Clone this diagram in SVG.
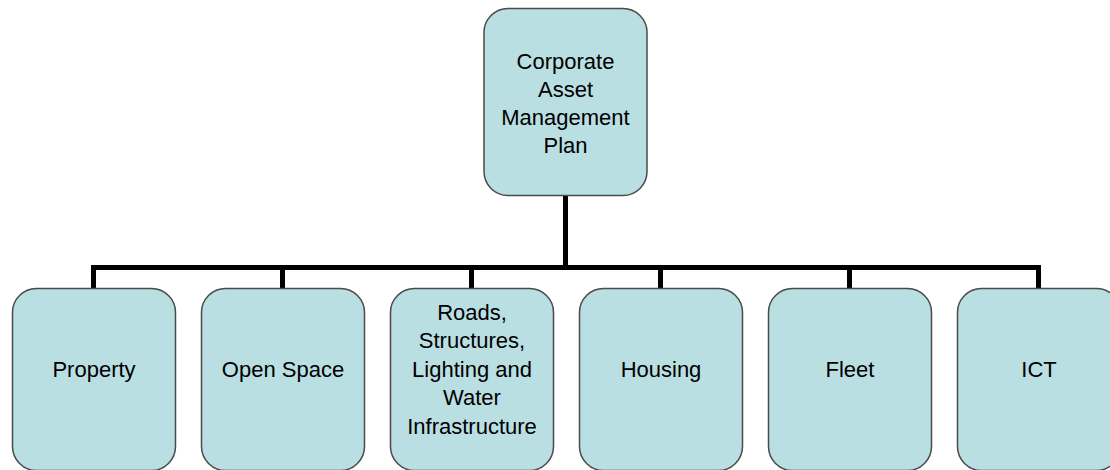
<svg xmlns="http://www.w3.org/2000/svg" width="1110" height="470" viewBox="0 0 1110 470">
<style>
.box{fill:#b9dfe3;stroke:#4a4a4a;stroke-width:1.5}
.lbl{font-family:"Liberation Sans",Arial,sans-serif;font-size:22px;fill:#000;text-anchor:middle}
.con{fill:none;stroke:#000;stroke-width:5;stroke-linejoin:miter;stroke-linecap:butt}
</style>
<rect width="1110" height="470" fill="#fff"/>
<g id="connectors">
<path class="con" d="M565.5 195 V267.5"/>
<path class="con" d="M93.5 288 V267.5 H1038.5 V288"/>
<path class="con" d="M282.5 267.5 V288 M471.5 267.5 V288 M660.5 267.5 V288 M849.5 267.5 V288"/>
</g>
<g id="node-plan">
<rect class="box" x="484" y="8.5" width="163" height="187" rx="24"/>
<text class="lbl" x="565.5" y="68.5">Corporate</text>
<text class="lbl" x="565.5" y="97">Asset</text>
<text class="lbl" x="565.5" y="125">Management</text>
<text class="lbl" x="565.5" y="153">Plan</text>
</g>
<g id="node-property">
<rect class="box" x="12.5" y="288.5" width="163" height="182" rx="24"/>
<text class="lbl" x="94" y="377">Property</text>
</g>
<g id="node-openspace">
<rect class="box" x="201.5" y="288.5" width="163" height="182" rx="24"/>
<text class="lbl" x="283" y="377">Open Space</text>
</g>
<g id="node-roads">
<rect class="box" x="390.5" y="288.5" width="163" height="182" rx="24"/>
<text class="lbl" x="472" y="319.5">Roads,</text>
<text class="lbl" x="472" y="348">Structures,</text>
<text class="lbl" x="472" y="376.5">Lighting and</text>
<text class="lbl" x="472" y="405">Water</text>
<text class="lbl" x="472" y="433.5">Infrastructure</text>
</g>
<g id="node-housing">
<rect class="box" x="579.5" y="288.5" width="163" height="182" rx="24"/>
<text class="lbl" x="661" y="377">Housing</text>
</g>
<g id="node-fleet">
<rect class="box" x="768.5" y="288.5" width="163" height="182" rx="24"/>
<text class="lbl" x="850" y="377">Fleet</text>
</g>
<g id="node-ict">
<rect class="box" x="957.5" y="288.5" width="163" height="182" rx="24"/>
<text class="lbl" x="1039" y="377">ICT</text>
</g>
</svg>
